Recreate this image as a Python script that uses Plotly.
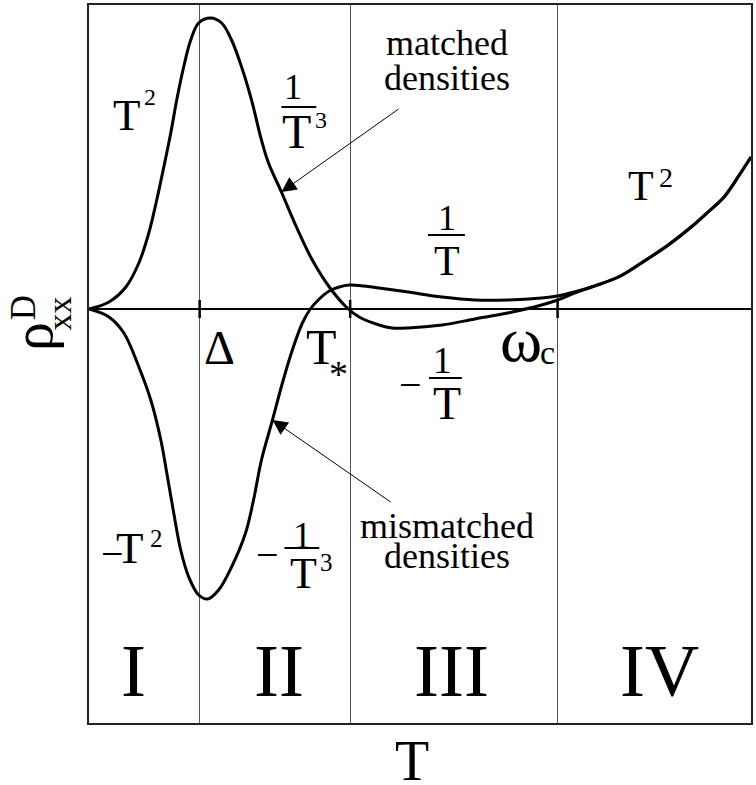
import plotly.graph_objects as go

# region boundaries on the T axis (Delta, T*, omega_c) and the region names
boundaries = [1.003, 2.367, 4.247]
region_names = ["I", "II", "III", "IV"]
region_x = [0.407, 1.726, 3.289, 5.169]

# matched densities curve
t_matched = [0.000, 0.181, 0.334, 0.452, 0.542, 0.614, 0.678, 0.741, 0.795, 0.858,
             0.922, 0.994, 1.102, 1.202, 1.292, 1.383, 1.473, 1.563, 1.627, 1.744,
             1.880, 2.024, 2.178, 2.331, 2.449, 2.629, 2.747, 2.891, 3.199, 3.497,
             3.795, 4.102, 4.247, 4.400, 4.554, 4.798, 5.006, 5.250, 5.458, 5.611,
             5.756, 5.900, 6.000]
rho_matched = [0.00, 0.07, 0.22, 0.46, 0.76, 1.09, 1.42, 1.76, 2.09, 2.42,
               2.69, 2.86, 2.91, 2.86, 2.69, 2.42, 2.09, 1.69, 1.46, 1.17,
               0.82, 0.49, 0.22, 0.02, -0.08, -0.16, -0.19, -0.19, -0.16, -0.10,
               -0.04, 0.04, 0.09, 0.16, 0.22, 0.32, 0.46, 0.64, 0.82, 0.97,
               1.12, 1.35, 1.52]

# mismatched densities curve
t_mismatched = [0.000, 0.181, 0.316, 0.452, 0.560, 0.651, 0.705, 0.768, 0.831, 0.904,
                0.994, 1.075, 1.175, 1.292, 1.419, 1.491, 1.563, 1.663, 1.753, 1.843,
                1.934, 2.006, 2.087, 2.178, 2.268, 2.358, 2.494, 2.629, 2.891, 3.199,
                3.497, 3.795, 4.102, 4.247, 4.400, 4.554, 4.798, 5.006, 5.250, 5.458,
                5.611, 5.756, 5.900, 6.000]
rho_mismatched = [0.00, -0.08, -0.24, -0.58, -0.91, -1.31, -1.64, -2.04, -2.41, -2.68,
                  -2.86, -2.90, -2.81, -2.58, -2.24, -1.91, -1.51, -1.11, -0.74, -0.41,
                  -0.14, 0.00, 0.10, 0.18, 0.22, 0.24, 0.23, 0.21, 0.17, 0.12,
                  0.09, 0.09, 0.11, 0.13, 0.17, 0.22, 0.32, 0.46, 0.64, 0.82,
                  0.97, 1.12, 1.35, 1.52]

SERIF = "Liberation Serif, Times New Roman, DejaVu Serif, serif"

fig = go.Figure()

for t, rho, name in ((t_matched, rho_matched, "matched"),
                     (t_mismatched, rho_mismatched, "mismatched")):
    fig.add_trace(go.Scatter(
        x=t, y=rho, mode="lines", name=name,
        line=dict(color="black", width=3, shape="spline", smoothing=1.0),
        showlegend=False, hoverinfo="skip",
    ))

# little ticks where the region boundaries cross the axis
for b in boundaries:
    fig.add_shape(type="line", x0=b, x1=b, y0=-0.09, y1=0.09,
                  line=dict(color="black", width=2.5))


def label(x, y, text, size, angle=0, ref="data"):
    xref, yref = ("paper", "paper") if ref == "paper" else ("x", "y")
    fig.add_annotation(x=x, y=y, text=text, showarrow=False, textangle=angle,
                       xref=xref, yref=yref, xanchor="center", yanchor="middle",
                       font=dict(family=SERIF, size=size, color="black"))


def bar(x0, x1, y):
    fig.add_shape(type="line", x0=x0, x1=x1, y0=y, y1=y,
                  line=dict(color="black", width=2))


# region I / II labels
label(0.343, 1.94, "T", 45)
label(0.551, 2.12, "2", 24)
label(1.852, 2.22, "1", 36)
bar(1.744, 2.060, 2.02)
label(1.880, 1.78, "T", 48)
label(2.105, 1.89, "3", 24)

label(0.217, -2.445, "\u2212", 40)
label(0.370, -2.39, "T", 45)
label(0.614, -2.29, "2", 25)
label(1.617, -2.455, "\u2212", 40)
label(1.934, -2.26, "1", 37)
bar(1.771, 2.087, -2.39)
label(1.943, -2.64, "T", 44)
label(2.151, -2.53, "3", 25)

# region III / IV labels
label(3.244, 0.91, "1", 36)
bar(3.072, 3.407, 0.74)
label(3.244, 0.48, "T", 42)
label(2.910, -0.755, "\u2212", 40)
label(3.208, -0.51, "1", 37)
bar(3.081, 3.379, -0.69)
label(3.244, -0.94, "T", 46)
label(5.006, 1.23, "T", 42)
label(5.232, 1.32, "2", 28)

# scale markers below the axis
label(1.184, -0.38, "\u0394", 48)
label(2.105, -0.38, "T", 50)
label(2.259, -0.65, "*", 38)
label(3.913, -0.30, "\u03c9", 64)
label(4.157, -0.43, "c", 34)

# pointers
label(3.244, 2.66, "matched", 36)
label(3.244, 2.31, "densities", 36)
label(3.244, -2.17, "mismatched", 36)
label(3.244, -2.47, "densities", 36)
for head, tail in (((1.744, 1.17), (2.819, 2.01)),
                   ((1.663, -1.11), (2.747, -1.94))):
    fig.add_annotation(x=head[0], y=head[1], ax=tail[0], ay=tail[1],
                       xref="x", yref="y", axref="x", ayref="y", text="",
                       showarrow=True, arrowhead=2, arrowsize=3,
                       arrowwidth=1, arrowcolor="black")

for name, x in zip(region_names, region_x):
    label(x, -3.61, name, 75)

# axis titles (outside the plot area, so in paper units)
label(0.488, -0.053, "T", 56, ref="paper")
label(-0.0860, 0.5376, "\u03c1", 58, angle=-90, ref="paper")
label(-0.0986, 0.5787, "D", 35, angle=-90, ref="paper")
label(-0.0440, 0.5703, "xx", 34, angle=-90, ref="paper")

fig.update_xaxes(range=[0, 6.0], tickvals=boundaries, showticklabels=False,
                 ticks="", showgrid=True, gridcolor="#555", gridwidth=1,
                 showline=True, mirror=True, linecolor="#222", linewidth=2,
                 zeroline=False)
fig.update_yaxes(range=[-4.14, 3.04], showticklabels=False, ticks="",
                 showgrid=False, showline=True, mirror=True, linecolor="#222",
                 linewidth=2, zeroline=True, zerolinecolor="black",
                 zerolinewidth=1.5)

fig.update_layout(
    width=756, height=785,
    margin=dict(l=89, r=3, t=5, b=62),
    paper_bgcolor="white", plot_bgcolor="white",
)

fig.write_html("out.html", config={"displayModeBar": False},
               post_script="document.body.style.margin = '0';")
